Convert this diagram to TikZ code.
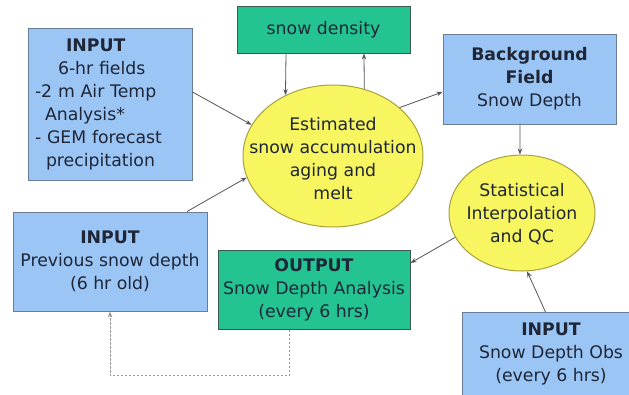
\documentclass[tikz,border=0pt]{standalone}
\usepackage{fontspec}
\setmainfont{DejaVu Sans}
\usetikzlibrary{arrows.meta,shapes.geometric}
\definecolor{boxblue}{RGB}{155,197,244}
\definecolor{bluedge}{RGB}{105,125,150}
\definecolor{boxgreen}{RGB}{36,196,146}
\definecolor{greenedge}{RGB}{60,90,80}
\definecolor{ellyellow}{RGB}{248,246,96}
\definecolor{yellowedge}{RGB}{170,160,60}
\definecolor{txt}{RGB}{30,38,55}
\definecolor{linegray}{RGB}{85,85,95}
\definecolor{dashgray}{RGB}{150,150,150}
\begin{document}
\begin{tikzpicture}[x=1pt,y=-1pt,
  every node/.style={font=\fontsize{17.3}{23}\selectfont, text=txt},
  bluebox/.style={draw=bluedge, fill=boxblue, line width=1pt, rectangle, inner sep=0pt, align=center},
  greenbox/.style={draw=greenedge, fill=boxgreen, line width=1pt, rectangle, inner sep=0pt, align=center},
  yellowell/.style={draw=yellowedge, fill=ellyellow, line width=1pt, ellipse, inner sep=0pt},
  elltext/.style={align=center, inner sep=0pt},
  conn/.style={draw=linegray, line width=0.8pt, -{Stealth[length=6pt,width=4.5pt]}},
  dconn/.style={draw=dashgray, line width=0.9pt, dash pattern=on 2.5pt off 1.5pt, -{Stealth[length=6pt,width=4.5pt]}}]
\useasboundingbox (0,0) rectangle (629,394);
\clip (0,0) rectangle (629,394);
\fill[white] (0,0) rectangle (629,394);

% boxes
\node[bluebox, minimum width=164pt, minimum height=152pt, text width=150pt, inner xsep=7pt, align=left] (in1) at (110,104)
  {\hspace*{31pt}\textbf{INPUT}\\\hspace*{23pt}6-hr fields\\-2 m Air Temp\\\hspace*{10pt}Analysis*\\- GEM forecast\\\hspace*{11pt}precipitation};
\node[greenbox, minimum width=173pt, minimum height=47pt] (dens) at (323.5,29.5) {snow density};
\node[bluebox, minimum width=173pt, minimum height=90pt] (bg) at (529.5,79) {\textbf{Background}\\\textbf{Field}\\Snow Depth};
\node[yellowell, minimum width=180pt, minimum height=142pt] (e1) at (333,156) {};
\node[elltext] (e1t) at (333,159) {Estimated\\snow accumulation\\aging and\\melt};
\node[yellowell, minimum width=146pt, minimum height=116pt] (e2) at (522,213) {};
\node[elltext] (e2t) at (522,214) {Statistical\\Interpolation\\and QC};
\node[bluebox, minimum width=194pt, minimum height=99pt] (in2) at (110,261.5) {\textbf{INPUT}\\Previous snow depth\\(6 hr old)};
\node[greenbox, minimum width=192pt, minimum height=79pt] (out) at (314,289.5) {\textbf{OUTPUT}\\Snow Depth Analysis\\(every 6 hrs)};
\node[bluebox, minimum width=178pt, minimum height=98pt, anchor=north west] (in3) at (462,312) {};
\node[anchor=north, align=center, inner sep=0pt] (in3t) at (551,323) {\textbf{INPUT}\\Snow Depth Obs\\(every 6 hrs)};

% connectors
\draw[conn] ([yshift=12pt]in1.east) -- (e1.159);
\draw[conn] ([xshift=77pt]in2.north) -- (e1.194);
\draw[conn] ([xshift=-37.5pt]dens.south) -- (e1.128);
\draw[conn] (e1.65) -- ([xshift=40.5pt]dens.south);
\draw[conn] (e1.36) -- ([yshift=-13pt]bg.west);
\draw[conn] ([xshift=-9.5pt]bg.south) -- (e2.92);
\draw[conn] (e2.200) -- ([yshift=26.5pt]out.east);
\draw[conn] ([xshift=-6pt]in3.north) -- (e2.275);
\draw[dconn] ([xshift=-25pt]out.south) -- ++(0,46) -| (in2.south);
\end{tikzpicture}
\end{document}
